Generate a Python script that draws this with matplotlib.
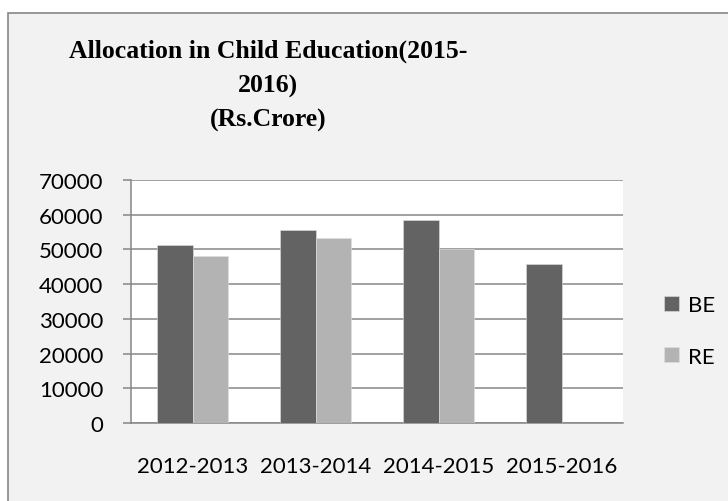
import numpy as np
import matplotlib
matplotlib.use("Agg")
import matplotlib.pyplot as plt
from matplotlib.patches import Rectangle

# Budget estimate vs revised estimate, Rs. crore
years = ["2012-2013", "2013-2014", "2014-2015", "2015-2016"]
be_values = [51200, 55700, 58500, 45700]
re_values = [48100, 53300, 50200, np.nan]

W, H = 728, 502
DPI = 100
GRID = "#868686"
BG = "#f2f2f2"

plt.rcParams["font.family"] = ["Lato", "DejaVu Sans"]

fig = plt.figure(figsize=(W / DPI, H / DPI), dpi=DPI, facecolor="white")

# chart area box (runs off the right and bottom edge)
fig.patches.append(Rectangle((8 / W, -0.1), 1.2, (H - 14) / H + 0.1,
                             transform=fig.transFigure, facecolor=BG,
                             edgecolor=GRID, linewidth=1.2, zorder=-1))

ax = fig.add_axes([131 / W, (H - 424) / H, (623 - 131) / W, (424 - 181) / H])
ax.set_zorder(1)
ax.set_facecolor("white")

x = np.arange(len(years))
bw = 0.285
ax.bar(x - bw / 2, be_values, bw, color="#636363", edgecolor="#e0e0e0",
       linewidth=0.4, label="BE", zorder=3)
ax.bar(x + bw / 2, re_values, bw, color="#b3b3b3", edgecolor="#e0e0e0",
       linewidth=0.4, label="RE", zorder=3)

ax.set_xlim(-0.5, len(years) - 0.5)
ax.set_ylim(0, 70000)
ax.set_yticks(np.arange(0, 70001, 10000))
ax.yaxis.grid(True, color=GRID, linewidth=1.1, zorder=0)
ax.set_axisbelow(True)

for side in ["top", "right"]:
    ax.spines[side].set_visible(False)
for side in ["left", "bottom"]:
    ax.spines[side].set_color(GRID)
    ax.spines[side].set_linewidth(1.1)

ax.set_xticks(x)
ax.set_xticklabels(years)
ax.tick_params(axis="x", length=0, pad=24, labelsize=16, colors="black")
ax.tick_params(axis="y", length=5.8, width=1.1, color=GRID, pad=14,
               labelsize=16, labelcolor="black")

fig.text(268 / W, 1 - 86 / H,
         "Allocation in Child Education(2015-\n2016)\n(Rs.Crore)",
         ha="center", va="center", fontsize=18.5, fontweight="bold",
         family="Liberation Serif", linespacing=1.6, zorder=2)

fig.legend(loc="center left", bbox_to_anchor=(653 / W, 1 - 332 / H),
           frameon=False, fontsize=16, handlelength=0.68, handleheight=0.68,
           handletextpad=0.4, labelspacing=1.4, borderpad=0)

fig.savefig("out.png", dpi=DPI, facecolor=fig.get_facecolor())
